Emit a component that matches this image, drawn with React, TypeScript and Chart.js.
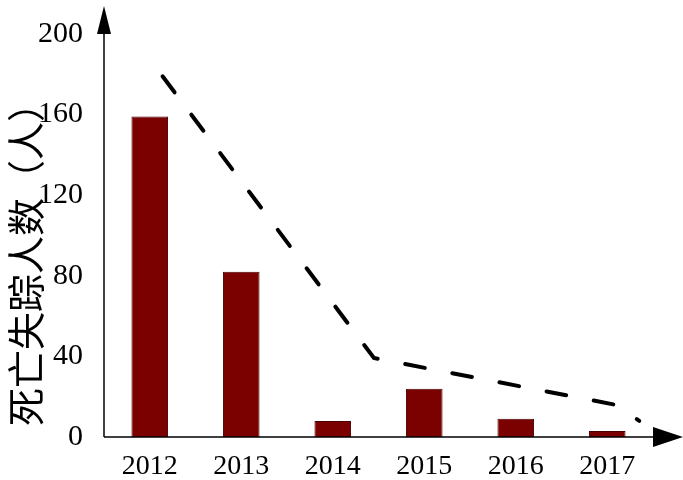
import React, { useEffect, useRef } from "react";
import { Chart, registerables } from "chart.js";

Chart.register(...registerables);

const categories = ["2012", "2013", "2014", "2015", "2016", "2017"];
const deaths = [159, 82, 8, 24, 9, 3];
const trendX = [0.14, 2.45, 5.1, 5.35];
const trendY = [179, 39.2, 15.9, 8];
const yTickValues = [0, 40, 80, 120, 160, 200];
const yTitle = "死亡失踪人数（人）";

const axesPlugin = {
  id: "axesArrows",
  afterDraw(chart: any) {
    const { ctx, chartArea } = chart;
    const { left, right, top, bottom } = chartArea;
    ctx.save();
    ctx.strokeStyle = "#000";
    ctx.fillStyle = "#000";
    ctx.lineWidth = 1.5;
    ctx.beginPath();
    ctx.moveTo(left, bottom);
    ctx.lineTo(left, top - 4);
    ctx.moveTo(left, bottom);
    ctx.lineTo(right + 2, bottom);
    ctx.stroke();
    // y arrow
    ctx.beginPath();
    ctx.moveTo(left, top - 28);
    ctx.lineTo(left - 7, top);
    ctx.lineTo(left + 7, top);
    ctx.closePath();
    ctx.fill();
    // x arrow
    ctx.beginPath();
    ctx.moveTo(right + 30, bottom);
    ctx.lineTo(right, bottom - 10);
    ctx.lineTo(right, bottom + 10);
    ctx.closePath();
    ctx.fill();
    // y title (reads bottom to top, starting near the x axis)
    ctx.translate(26, bottom - 11);
    ctx.rotate(-Math.PI / 2);
    ctx.font = '38px "Noto Sans CJK SC"';
    ctx.textAlign = "left";
    ctx.textBaseline = "middle";
    ctx.fillText(yTitle, 0, 0);
    ctx.restore();
  },
};

export default function App() {
  const ref = useRef<HTMLCanvasElement>(null);
  useEffect(() => {
    if (!ref.current) return;
    const chart = new Chart(ref.current, {
      type: "bar",
      data: {
        labels: categories,
        datasets: [
          {
            type: "line",
            data: trendX.map((x, i) => ({ x, y: trendY[i] })),
            xAxisID: "x2",
            yAxisID: "y",
            borderColor: "#000",
            borderWidth: 4,
            borderDash: [20, 28],
            borderCapStyle: "round",
            pointRadius: 0,
            fill: false,
            tension: 0,
          } as any,
          {
            type: "bar",
            data: deaths,
            xAxisID: "x",
            yAxisID: "y",
            backgroundColor: "#7b0000",
            borderColor: "#4a0000",
            borderWidth: 1,
            barPercentage: 0.4,
            categoryPercentage: 1,
            grouped: false,
          },
        ],
      },
      options: {
        responsive: false,
        animation: false,
        layout: { padding: { left: 0, right: 30, top: 34, bottom: 0 } },
        plugins: { legend: { display: false }, tooltip: { enabled: false } },
        scales: {
          x: {
            type: "category",
            offset: true,
            grid: { display: false, drawTicks: false },
            border: { display: false },
            ticks: {
              color: "#000",
              padding: 13,
              font: { family: '"Liberation Serif", "Times New Roman", serif', size: 28 },
              maxRotation: 0,
            },
            afterFit: (s: any) => {
              s.height = 43;
              s.paddingLeft = 0;
              s.paddingRight = 0;
            },
          },
          x2: {
            type: "linear",
            display: false,
            offset: false,
            grid: { offset: false },
            min: -0.5,
            max: 5.5,
          },
          y: {
            min: 0,
            max: 200,
            grid: { display: false, drawTicks: false },
            border: { display: false },
            afterBuildTicks: (s: any) => {
              s.ticks = yTickValues.map((v) => ({ value: v }));
            },
            ticks: {
              color: "#000",
              padding: 21,
              font: { family: '"Liberation Serif", "Times New Roman", serif', size: 30 },
            },
            afterFit: (s: any) => {
              s.width = 104;
              s.paddingTop = 0;
              s.paddingBottom = 0;
            },
          },
        },
      },
      plugins: [axesPlugin],
    });
    return () => chart.destroy();
  }, []);
  return (
    <div style={{ position: "fixed", left: 0, top: 0, width: 683, height: 480, background: "#fff" }}>
      <canvas ref={ref} width={683} height={480} />
    </div>
  );
}
